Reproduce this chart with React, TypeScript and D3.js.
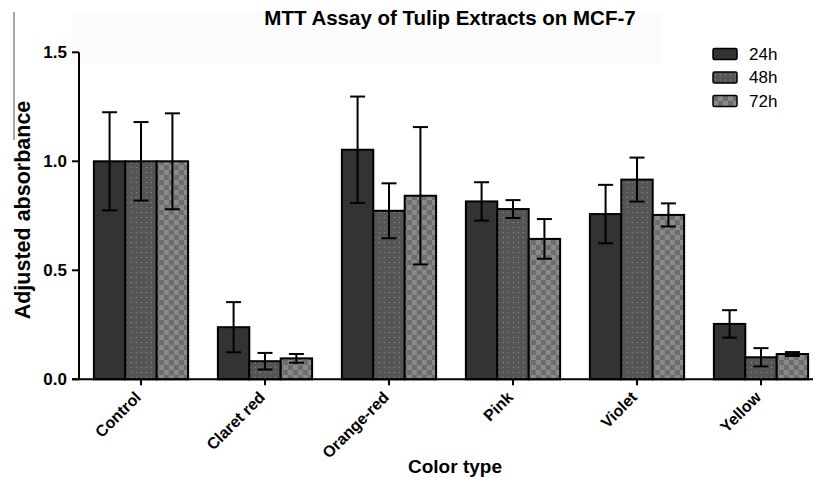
import React from "react";
import { scaleBand, scaleLinear } from "d3";

const width = 813;
const height = 477;
const marginLeft = 79;
const yTop = 52.3;
const yBottom = 379.3;

const categories = ["Control", "Claret red", "Orange-red", "Pink", "Violet", "Yellow"];
const seriesNames = ["24h", "48h", "72h"];
const yTicks = [0, 0.5, 1.0, 1.5];

const mean24 = [1.0, 0.239, 1.053, 0.816, 0.758, 0.254];
const err24 = [0.225, 0.115, 0.244, 0.088, 0.134, 0.063];
const mean48 = [1.0, 0.083, 0.773, 0.781, 0.916, 0.101];
const err48 = [0.18, 0.038, 0.126, 0.041, 0.101, 0.042];
const mean72 = [1.0, 0.096, 0.842, 0.644, 0.754, 0.116];
const err72 = [0.22, 0.02, 0.315, 0.091, 0.053, 0.009];

const means = [mean24, mean48, mean72];
const errs = [err24, err48, err72];
const fills = ["#333333", "url(#dots)", "url(#checks)"];

const font = "'Liberation Sans', Arial, sans-serif";

export default function App() {
  const x = scaleBand<string>()
    .domain(categories)
    .range([marginLeft, marginLeft + 6 * 124])
    .paddingInner(0.24)
    .paddingOuter(0.12);
  const xs = scaleBand<string>().domain(seriesNames).range([0, x.bandwidth()]);
  const y = scaleLinear().domain([0, 1.5]).range([yBottom, yTop]);
  const capHalf = 7.5;

  return (
    <svg
      width={width}
      height={height}
      style={{ position: "absolute", left: 0, top: 0, background: "#fff" }}
      fontFamily={font}
    >
      <defs>
        <pattern id="dots" width="5" height="5" patternUnits="userSpaceOnUse">
          <rect width="5" height="5" fill="#555555" />
          <rect x="2" y="2" width="1" height="1" fill="#909090" />
        </pattern>
        <pattern id="checks" width="10" height="10" patternUnits="userSpaceOnUse">
          <rect width="10" height="10" fill="#6c6c6c" />
          <rect width="5" height="5" fill="#8a8a8a" />
          <rect x="5" y="5" width="5" height="5" fill="#8a8a8a" />
        </pattern>
      </defs>

      {/* faint scan artifacts */}
      <rect x={72} y={12} width={590} height={52} fill="#fcfcfc" />
      <line x1={14} x2={14} y1={12} y2={140} stroke="#8a8a8a" strokeWidth={1.5} />

      <text x={450} y={25} textAnchor="middle" fontWeight="bold" fontSize={20.5}>
        MTT Assay of Tulip Extracts on MCF-7
      </text>

      {/* bars */}
      {categories.map((c, i) => (
        <g key={c} transform={`translate(${x(c)},0)`}>
          {seriesNames.map((s, k) => {
            const bx = xs(s)!;
            const v = means[k][i];
            return (
              <rect
                key={s}
                x={bx}
                y={y(v)}
                width={xs.bandwidth()}
                height={y(0) - y(v)}
                fill={fills[k]}
                stroke="#000"
                strokeWidth={2}
              />
            );
          })}
          {seriesNames.map((s, k) => {
            const cx = xs(s)! + xs.bandwidth() / 2;
            const v = means[k][i];
            const e = errs[k][i];
            return (
              <g key={s} stroke="#000" strokeWidth={2}>
                <line x1={cx} x2={cx} y1={y(v + e)} y2={y(v - e)} />
                <line x1={cx - capHalf} x2={cx + capHalf} y1={y(v + e)} y2={y(v + e)} />
                <line x1={cx - capHalf} x2={cx + capHalf} y1={y(v - e)} y2={y(v - e)} />
              </g>
            );
          })}
        </g>
      ))}

      {/* y axis */}
      <line x1={marginLeft} x2={marginLeft} y1={yTop} y2={yBottom} stroke="#000" strokeWidth={2} />
      {yTicks.map((t) => (
        <g key={t}>
          <line x1={marginLeft - 7} x2={marginLeft} y1={y(t)} y2={y(t)} stroke="#000" strokeWidth={2} />
          <text
            x={67}
            y={y(t)}
            dy="0.35em"
            textAnchor="end"
            fontWeight="bold"
            fontSize={17}
          >
            {t.toFixed(1)}
          </text>
        </g>
      ))}

      {/* x axis */}
      <line x1={marginLeft - 7} x2={width} y1={yBottom} y2={yBottom} stroke="#000" strokeWidth={2} />
      {categories.map((c) => {
        const cx = x(c)! + x.bandwidth() / 2;
        return (
          <g key={c}>
            <line x1={cx} x2={cx} y1={yBottom} y2={yBottom + 6} stroke="#000" strokeWidth={2} />
            <text
              transform={`translate(${cx + 1},${yBottom + 19}) rotate(-45)`}
              textAnchor="end"
              fontWeight="bold"
              fontSize={16}
            >
              {c}
            </text>
          </g>
        );
      })}

      <text
        transform="translate(30,210) rotate(-90)"
        textAnchor="middle"
        fontWeight="bold"
        fontSize={21.5}
      >
        Adjusted absorbance
      </text>
      <text x={455} y={473} textAnchor="middle" fontWeight="bold" fontSize={19}>
        Color type
      </text>

      {/* legend */}
      {seriesNames.map((s, k) => (
        <g key={s} transform={`translate(713,${54 + k * 23.5})`}>
          <rect x={0} y={-5.5} width={24} height={11} rx={1.5} fill={fills[k]} stroke="#000" strokeWidth={1.5} />
          <text x={36} y={0} dy="0.35em" fontSize={17}>
            {s}
          </text>
        </g>
      ))}
    </svg>
  );
}
